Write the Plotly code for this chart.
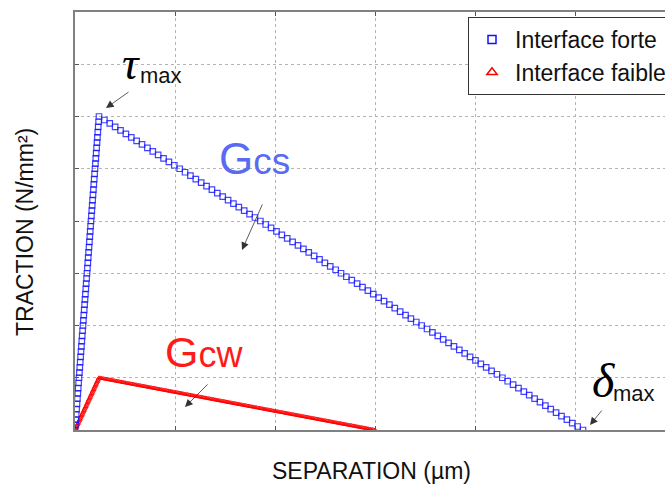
import numpy as np
import plotly.graph_objects as go

# Bilinear cohesive laws: vertices (separation, traction) and load increments per branch
sep_forte = [0.0, 0.24, 5.08]
trac_forte = [0.0, 6.0, 0.0]
steps_forte = [60, 90]

sep_faible = [0.0, 0.24, 3.0]
trac_faible = [0.0, 1.0, 0.0]
steps_faible = [40, 200]

series_names = ["Interface forte", "Interface faible"]
x_title = "SEPARATION (µm)"
y_title = "TRACTION (N/mm²)"

BLUE = "rgba(20,20,255,0.8)"
RED = "rgba(255,0,0,0.9)"


def sample_law(sep, trac, steps):
    xs, ys = [sep[0]], [trac[0]]
    for i, n in enumerate(steps):
        t = np.linspace(0, 1, n + 1)[1:]
        xs.extend(sep[i] + t * (sep[i + 1] - sep[i]))
        ys.extend(trac[i] + t * (trac[i + 1] - trac[i]))
    return np.array(xs), np.array(ys)


xf, yf = sample_law(sep_forte, trac_forte, steps_forte)
xw, yw = sample_law(sep_faible, trac_faible, steps_faible)

fig = go.Figure()
fig.add_trace(go.Scatter(
    x=xw, y=yw, mode="markers", showlegend=False,
    marker=dict(symbol="triangle-up-open", size=4, color=RED, line=dict(width=1)),
))
fig.add_trace(go.Scatter(
    x=xf, y=yf, mode="markers", showlegend=False,
    marker=dict(symbol="square-open", size=5.5, color=BLUE, line=dict(width=1.2)),
))
# legend entries with larger symbols
fig.add_trace(go.Scatter(
    x=[None], y=[None], mode="markers", name=series_names[0],
    marker=dict(symbol="square-open", size=8, color="#1010ff", line=dict(width=1.5)),
))
fig.add_trace(go.Scatter(
    x=[None], y=[None], mode="markers", name=series_names[1],
    marker=dict(symbol="triangle-up-open", size=9, color="#ff0000", line=dict(width=1.5)),
))

L, B, T = 75, 55, 12
W, H = 665, 485
plot_w = W - L
plot_h = H - B - T
x_max = plot_w / 100.0
y_max = 8.0


def px_x(px):
    return (px - L) / plot_w * x_max


def px_y(py):
    return (H - B - py) / plot_h * y_max


def paper_x(px):
    return (px - L) / plot_w


def paper_y(py):
    return (H - B - py) / plot_h


sans = "Liberation Sans, Arial, sans-serif"
serif = "Liberation Serif, Times New Roman, serif"
ann = []

# axis titles (paper coordinates, outside the plotting area)
ann.append(dict(x=paper_x(372), y=paper_y(471), xref="paper", yref="paper", text=x_title,
                showarrow=False, xanchor="center", yanchor="middle",
                font=dict(family=sans, size=23, color="#111")))
ann.append(dict(x=paper_x(25), y=paper_y(232), xref="paper", yref="paper", text=y_title,
                textangle=-90, showarrow=False, xanchor="center", yanchor="middle",
                font=dict(family=sans, size=23, color="#111")))

# in-plot labels, placed by pixel centre
labels = [
    (131, 63, "<i>τ</i>", serif, 46, "#000"),
    (161, 75, "max", sans, 22, "#111"),
    (603, 380, "<i>δ</i>", serif, 48, "#000"),
    (634, 393, "max", sans, 22, "#111"),
    (254, 158, "G<span style='font-size:37px'>cs</span>", sans, 44, "#5a6af2"),
    (204, 352, "G<span style='font-size:36px'>cw</span>", sans, 43, "#ff1a1a"),
]
for px, py, txt, fam, size, col in labels:
    ann.append(dict(x=px_x(px), y=px_y(py), xref="x", yref="y", text=txt,
                    showarrow=False, xanchor="center", yanchor="middle",
                    font=dict(family=fam, size=size, color=col)))

# arrows: (head_x, head_y, tail_dx, tail_dy) in pixels
arrows = [(106, 108, 24, -17), (242, 250, 21, -47), (185, 407, 24, -24), (590, 425, 13, -16)]
for hx, hy, dx, dy in arrows:
    ann.append(dict(x=px_x(hx), y=px_y(hy), xref="x", yref="y", ax=dx, ay=dy,
                    axref="pixel", ayref="pixel", text="", showarrow=True,
                    arrowhead=2, arrowsize=1.9, arrowwidth=0.8, arrowcolor="#333"))

axis_common = dict(
    showgrid=True, gridcolor="#b4b4b4", griddash="dot", gridwidth=1,
    showline=True, linecolor="#808080", linewidth=2,
    ticks="inside", ticklen=4, tickcolor="#555", showticklabels=False,
    zeroline=False,
)

fig.update_layout(
    width=W, height=H,
    margin=dict(l=L, r=0, t=T, b=B, pad=0, autoexpand=False),
    paper_bgcolor="white", plot_bgcolor="white",
    xaxis=dict(range=[0, x_max], dtick=1, mirror="ticks", **axis_common),
    yaxis=dict(range=[0, y_max], dtick=1, mirror=False, **axis_common),
    showlegend=True,
    legend=dict(
        x=paper_x(468), y=paper_y(17), xanchor="left", yanchor="top",
        bgcolor="white", bordercolor="#333", borderwidth=1,
        font=dict(family=sans, size=23, color="#111"),
        itemwidth=36, tracegroupgap=0,
    ),
    annotations=ann,
)

fig.write_html("out.html")
